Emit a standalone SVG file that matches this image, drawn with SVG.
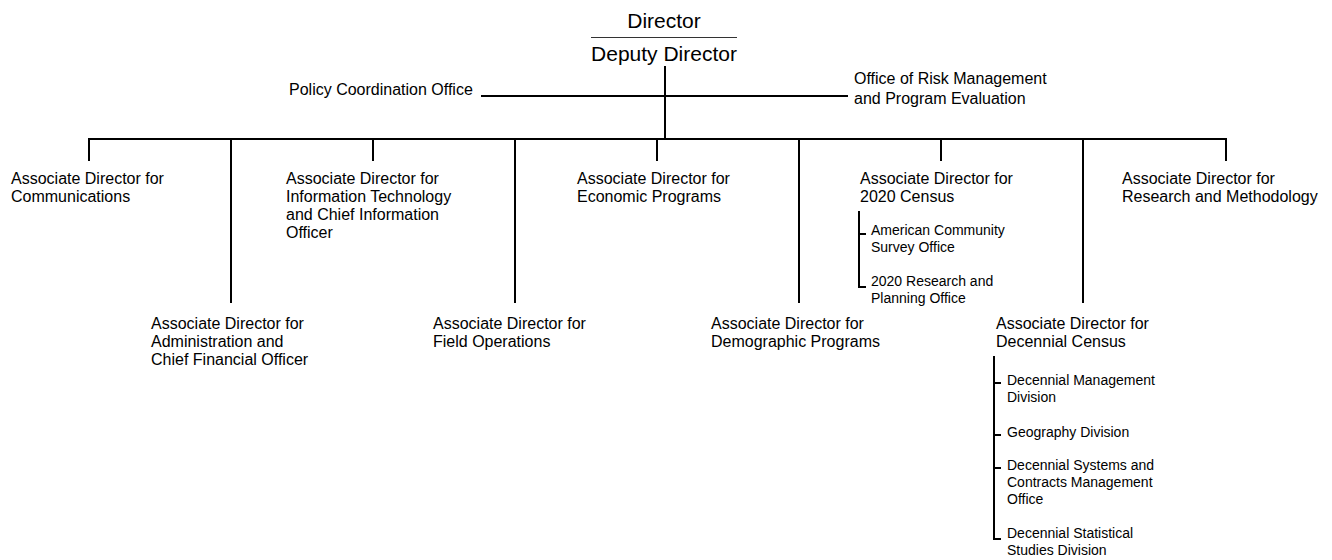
<svg xmlns="http://www.w3.org/2000/svg" width="1332" height="560" viewBox="0 0 1332 560">
<style>
.t{font-family:"Liberation Sans",Arial,sans-serif;font-size:16px;fill:#000}
.top{font-family:"Liberation Sans",Arial,sans-serif;font-size:21px;fill:#000}
.s{font-family:"Liberation Sans",Arial,sans-serif;font-size:14px;fill:#000}
.ln{stroke:#000;stroke-width:2;fill:none}
.thin{stroke:#333;stroke-width:1.2;fill:none}
</style>
<rect width="1332" height="560" fill="#fff"/>
<g id="connectors">
<line class="thin" x1="591" y1="37.5" x2="737" y2="37.5"/>
<line class="ln" x1="665" y1="66" x2="665" y2="139"/>
<line class="ln" x1="481" y1="96" x2="848" y2="96"/>
<line class="ln" x1="88" y1="139" x2="1227" y2="139"/>
<line class="ln" x1="89" y1="138" x2="89" y2="161"/>
<line class="ln" x1="231" y1="138" x2="231" y2="303"/>
<line class="ln" x1="373" y1="138" x2="373" y2="161"/>
<line class="ln" x1="515" y1="138" x2="515" y2="303"/>
<line class="ln" x1="657" y1="138" x2="657" y2="161"/>
<line class="ln" x1="799" y1="138" x2="799" y2="303"/>
<line class="ln" x1="941" y1="138" x2="941" y2="161"/>
<line class="ln" x1="1083" y1="138" x2="1083" y2="303"/>
<line class="ln" x1="1226" y1="138" x2="1226" y2="161"/>
<path class="ln" d="M859 211V287H866M859 234H866"/>
<path class="ln" d="M994 356V539H1001M994 383H1001M994 435H1001M994 468H1001"/>
</g>
<g id="director"><text class="top" x="664" y="28" text-anchor="middle">Director</text></g>
<g id="deputy"><text class="top" x="664" y="61" text-anchor="middle">Deputy Director</text></g>
<g id="policy"><text class="t" x="289" y="95">Policy Coordination Office</text></g>
<g id="risk"><text class="t" x="854" y="84">Office of Risk Management</text><text class="t" x="854" y="104">and Program Evaluation</text></g>
<g id="comm"><text class="t" x="11" y="184">Associate Director for</text><text class="t" x="11" y="202">Communications</text></g>
<g id="admin"><text class="t" x="151" y="329">Associate Director for</text><text class="t" x="151" y="347">Administration and</text><text class="t" x="151" y="365">Chief Financial Officer</text></g>
<g id="it"><text class="t" x="286" y="184">Associate Director for</text><text class="t" x="286" y="202">Information Technology</text><text class="t" x="286" y="220">and Chief Information</text><text class="t" x="286" y="238">Officer</text></g>
<g id="field"><text class="t" x="433" y="329">Associate Director for</text><text class="t" x="433" y="347">Field Operations</text></g>
<g id="econ"><text class="t" x="577" y="184">Associate Director for</text><text class="t" x="577" y="202">Economic Programs</text></g>
<g id="demo"><text class="t" x="711" y="329">Associate Director for</text><text class="t" x="711" y="347">Demographic Programs</text></g>
<g id="census2020"><text class="t" x="860" y="184">Associate Director for</text><text class="t" x="860" y="202">2020 Census</text></g>
<g id="acs"><text class="s" x="871" y="235">American Community</text><text class="s" x="871" y="252">Survey Office</text></g>
<g id="rpo"><text class="s" x="871" y="286">2020 Research and</text><text class="s" x="871" y="303">Planning Office</text></g>
<g id="research"><text class="t" x="1122" y="184">Associate Director for</text><text class="t" x="1122" y="202">Research and Methodology</text></g>
<g id="decennial"><text class="t" x="996" y="329">Associate Director for</text><text class="t" x="996" y="347">Decennial Census</text></g>
<g id="dmd"><text class="s" x="1007" y="385">Decennial Management</text><text class="s" x="1007" y="402">Division</text></g>
<g id="geo"><text class="s" x="1007" y="437">Geography Division</text></g>
<g id="dscmo"><text class="s" x="1007" y="470">Decennial Systems and</text><text class="s" x="1007" y="487">Contracts Management</text><text class="s" x="1007" y="504">Office</text></g>
<g id="dssd"><text class="s" x="1007" y="538">Decennial Statistical</text><text class="s" x="1007" y="555">Studies Division</text></g>
</svg>
